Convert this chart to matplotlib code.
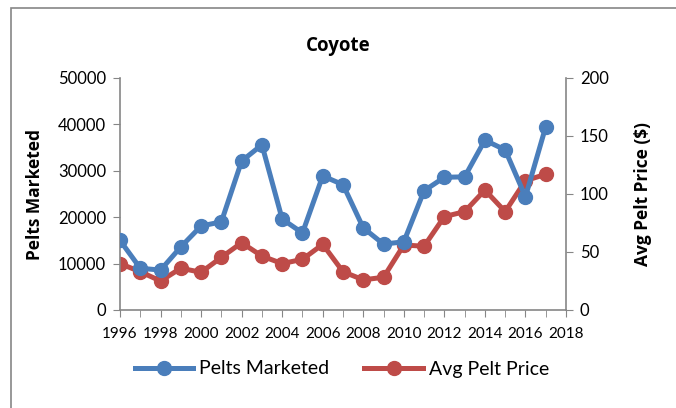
import matplotlib
matplotlib.use("Agg")
import matplotlib.pyplot as plt
from matplotlib.patches import Rectangle
from matplotlib.lines import Line2D

years = list(range(1996, 2018))
pelts = [15000, 9000, 8600, 13600, 18100, 19000, 32100, 35600, 19600, 16600,
         28900, 27000, 17700, 14200, 14700, 25700, 28600, 28700, 36600, 34500,
         24400, 39500]
price = [40, 33, 25, 36, 32.5, 45.4, 58, 46.5, 40, 43.7,
         56.6, 33, 26, 28.2, 56, 55, 80.5, 84.8, 103.4, 84.8,
         111.5, 117]
x_ticks = list(range(1996, 2019, 2))
left_ticks = [0, 10000, 20000, 30000, 40000, 50000]
right_ticks = [0, 50, 100, 150, 200]

plt.rcParams['font.family'] = ['Lato', 'DejaVu Sans']
bold_font = ['Open Sans', 'DejaVu Sans']
blue = '#4A7EBB'
red = '#BE4B48'
gray = '#868686'

fig = plt.figure(figsize=(6.76, 4.08), dpi=100)
fig.patches.append(Rectangle((11/676, -0.1), 1.2, (408-8)/408 + 0.1,
                             transform=fig.transFigure, fill=False,
                             edgecolor=gray, linewidth=1.2))

ax = fig.add_axes([120/676, (408-310)/408, (566-120)/676, (310-78)/408])
ax2 = ax.twinx()

ax.plot(years, pelts, color=blue, lw=3.6, marker='o', ms=10, zorder=3,
        solid_capstyle='round')
ax2.plot(years, price, color=red, lw=3.6, marker='o', ms=10, zorder=2,
         solid_capstyle='round')
ax.set_zorder(ax2.get_zorder() + 1)
ax.patch.set_visible(False)

ax.set_xlim(1996, 2018)
ax.set_ylim(0, 50000)
ax2.set_ylim(0, 200)
ax.set_xticks(x_ticks)
ax.set_xticks(range(1996, 2019), minor=True)
ax.set_yticks(left_ticks)
ax2.set_yticks(right_ticks)

for a in (ax, ax2):
    for s in a.spines.values():
        s.set_visible(False)
ax.spines['left'].set_visible(True)
ax.spines['bottom'].set_visible(True)
ax2.spines['right'].set_visible(True)
for s in (ax.spines['left'], ax.spines['bottom'], ax2.spines['right']):
    s.set_color(gray)
    s.set_linewidth(1.2)

ax.tick_params(axis='x', which='both', direction='out', length=5, color=gray,
               labelsize=11, pad=7)
ax.tick_params(axis='y', direction='out', length=5, color=gray, labelsize=12, pad=5)
ax2.tick_params(axis='y', direction='out', length=5, color=gray, labelsize=12, pad=5)

ax.set_ylabel('Pelts Marketed', fontsize=12.5, fontweight='bold', labelpad=10,
              family=bold_font)
ax2.set_ylabel('Avg Pelt Price ($)', fontsize=12.5, fontweight='bold', labelpad=18,
               family=bold_font)
fig.text(338/676, 1 - 46/408, 'Coyote', ha='center', va='center',
         fontsize=13.5, fontweight='bold', family=bold_font)

handles = [Line2D([], [], color=blue, lw=3.6, marker='o', ms=10),
           Line2D([], [], color=red, lw=3.6, marker='o', ms=10)]
fig.legend(handles, ['Pelts Marketed', 'Avg Pelt Price'], loc='center',
           bbox_to_anchor=(342/676, 1 - 369/408), ncol=2, frameon=False,
           fontsize=14, handlelength=3.0, columnspacing=1.8, handletextpad=0.3)

fig.savefig('out.png', dpi=100)
